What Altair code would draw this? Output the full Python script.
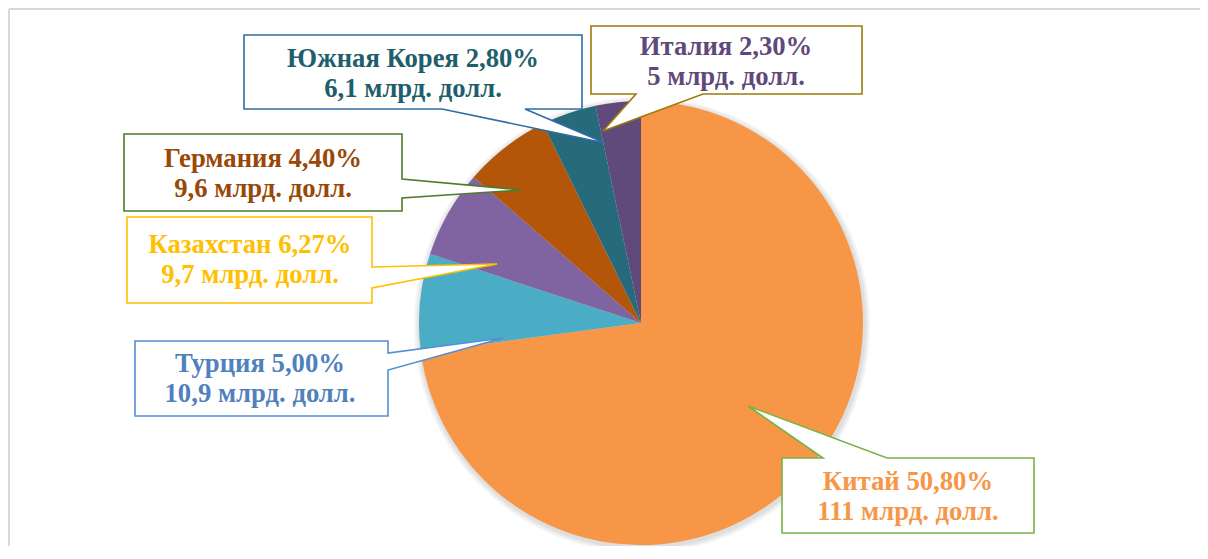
import altair as alt
import pandas as pd

# ---------------- data ----------------
countries = ["Китай", "Турция", "Казахстан", "Германия", "Южная Корея", "Италия"]
shares = ["50,80%", "5,00%", "6,27%", "4,40%", "2,80%", "2,30%"]
value_labels = ["111", "10,9", "9,7", "9,6", "6,1", "5"]
values = [111, 10.9, 9.7, 9.6, 6.1, 5.0]
unit = "млрд. долл."

# ---------------- styles ----------------
slice_colors = ["#F79646", "#4BACC6", "#8064A2", "#B3560A", "#276A7C", "#604A7B"]
text_colors = ["#F79646", "#4F81BD", "#FFC000", "#984807", "#215E6B", "#5F497A"]
border_colors = ["#77B347", "#558ED5", "#FFC000", "#4F7A28", "#2E6DA4", "#9C7B0A"]

# ---------------- layout (page pixels) ----------------
W, H = 1192, 538
OFF = 8
CX, CY, R = 641, 323, 222

callout_shapes = [
    [(782, 458), (823, 458), (748, 406), (887, 458), (1034, 458), (1034, 533), (782, 533)],
    [(135, 341), (388, 341), (388, 353), (503, 338), (388, 370), (388, 416), (135, 416)],
    [(127, 217), (372, 217), (372, 267), (497, 264), (372, 288), (372, 303), (127, 303)],
    [(124, 134), (402, 134), (402, 179), (522, 190), (402, 198), (402, 211), (124, 211)],
    [(244, 35), (582, 35), (582, 109), (525, 109), (605, 143), (442, 109), (244, 109)],
    [(591, 26), (862, 26), (862, 94), (703, 94), (603, 131), (636, 94), (591, 94)],
]
text_pos = [(908, 490), (260, 372), (250, 253), (263, 167), (413, 67), (726, 55)]
LINE_GAP = 30

# ---------------- tables ----------------
pie_df = pd.DataFrame({"country": countries, "value": values, "idx": range(len(countries))})

poly_rows = []
for c, shape in zip(countries, callout_shapes):
    for i, (px, py) in enumerate(shape):
        poly_rows.append({"country": c, "i": i, "x": px - OFF, "y": py - OFF})
poly_df = pd.DataFrame(poly_rows)

text_rows = []
for c, s, v, col, (tx, ty) in zip(countries, shares, value_labels, text_colors, text_pos):
    text_rows.append({"country": c, "label": f"{c} {s}", "x": tx - OFF, "y": ty - OFF, "col": col})
    text_rows.append({"country": c, "label": f"{v} {unit}", "x": tx - OFF, "y": ty - OFF + LINE_GAP, "col": col})
text_df = pd.DataFrame(text_rows)

xs = alt.Scale(domain=[0, W], nice=False, zero=False)
ys = alt.Scale(domain=[0, H], nice=False, zero=False, reverse=True)

one = pd.DataFrame({"a": [0]})

shadows = [
    alt.Chart(one).mark_arc(outerRadius=R + d, theta=0, theta2=6.2832, color="#000000", opacity=0.045)
    .encode(x=alt.value(CX - OFF + 1), y=alt.value(CY - OFF + 2))
    for d in (2, 4, 6)
]

pie = alt.Chart(pie_df).mark_arc(outerRadius=R).encode(
    theta=alt.Theta("value:Q", stack=True),
    color=alt.Color("country:N", scale=alt.Scale(domain=countries, range=slice_colors), legend=None),
    order=alt.Order("idx:Q"),
    x=alt.value(CX - OFF),
    y=alt.value(CY - OFF),
)

callouts = alt.Chart(poly_df).mark_line(
    interpolate="linear-closed", fill="white", strokeWidth=1.6
).encode(
    x=alt.X("x:Q", scale=xs, axis=None),
    y=alt.Y("y:Q", scale=ys, axis=None),
    stroke=alt.Stroke("country:N", scale=alt.Scale(domain=countries, range=border_colors), legend=None),
    detail="country:N",
    order="i:Q",
)

labels = alt.Chart(text_df).mark_text(
    font="Liberation Serif", fontWeight="bold", fontSize=26.7, align="center", baseline="alphabetic"
).encode(
    x=alt.X("x:Q", scale=xs, axis=None),
    y=alt.Y("y:Q", scale=ys, axis=None),
    text="label:N",
    color=alt.Color("col:N", scale=None),
)

frame_top = alt.Chart(one).mark_rule(color="#D9D9D9", strokeWidth=2).encode(
    x=alt.value(1), x2=alt.value(W), y=alt.value(1)
)
frame_left = alt.Chart(one).mark_rule(color="#D9D9D9", strokeWidth=2).encode(
    x=alt.value(1), y=alt.value(1), y2=alt.value(H)
)

chart = alt.layer(*shadows, pie, callouts, labels, frame_top, frame_left).properties(
    width=W, height=H, padding=0, autosize=alt.AutoSizeParams(type="none"),
    background="white",
).configure_view(strokeWidth=0)

chart.save("out.html", embed_options={"renderer": "svg", "actions": False})
